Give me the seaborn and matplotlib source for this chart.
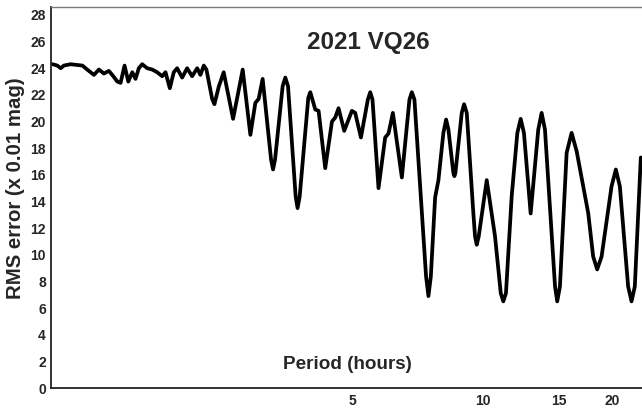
import matplotlib
matplotlib.use("Agg")
import matplotlib.pyplot as plt
import seaborn as sns
import pandas as pd
from matplotlib.ticker import FixedLocator, FixedFormatter, NullLocator

# Period (hours) and RMS error (x 0.01 mag)
period = [1.007, 1.032, 1.051, 1.069, 1.108, 1.180, 1.211, 1.255, 1.289, 1.324,
          1.359, 1.384, 1.422, 1.447, 1.478, 1.508, 1.540, 1.567, 1.595, 1.624,
          1.668, 1.713, 1.759, 1.807, 1.839, 1.882, 1.922, 1.957, 2.010, 2.064,
          2.120, 2.178, 2.216, 2.256, 2.288, 2.359, 2.388, 2.443, 2.509, 2.638,
          2.777, 2.893, 2.971, 3.024, 3.089,
          3.231, 3.265, 3.300, 3.437, 3.486, 3.537, 3.684, 3.722, 3.764, 3.941,
          3.984, 4.091, 4.164, 4.314, 4.472, 4.551, 4.632, 4.774, 4.974, 5.062,
          5.220, 5.416, 5.485, 5.552, 5.733, 5.941, 6.047, 6.190, 6.494, 6.763,
          6.850, 6.945, 7.390, 7.484, 7.580, 7.756, 7.894, 8.106, 8.225, 8.326,
          8.549, 8.597, 8.642, 8.941, 9.052, 9.183, 9.511, 9.598, 9.685, 9.788,
          10.216, 10.677, 11.010, 11.161, 11.320, 11.672, 12.030, 12.246, 12.460,
          12.915, 13.450, 13.695, 13.940, 14.710, 14.882, 15.100, 15.650, 16.071,
          16.510, 17.560, 18.030, 18.421, 18.860, 19.890, 20.351, 20.790, 21.730,
          22.129, 22.520, 23.253]
rms = [24.3, 24.2, 24.0, 24.2, 24.3, 24.2, 23.9, 23.5, 23.9, 23.6,
       23.8, 23.5, 23.0, 22.9, 24.2, 23.0, 23.7, 23.2, 24.0, 24.3,
       24.0, 23.9, 23.7, 23.4, 23.7, 22.5, 23.7, 24.0, 23.3, 24.0,
       23.4, 24.0, 23.5, 24.2, 23.9, 21.7, 21.3, 22.6, 23.7, 20.2,
       23.9, 19.0, 21.4, 21.7, 23.2,
       17.14, 16.4, 17.14, 22.65, 23.3, 22.65, 14.38, 13.5, 14.38, 21.78,
       22.2, 20.9, 20.8, 16.5, 20.0, 20.3, 21.0, 19.3, 20.8, 20.65,
       18.8, 21.65, 22.2, 21.65, 15.0, 18.8, 19.1, 20.65, 15.8, 21.65,
       22.2, 21.65, 8.37, 6.9, 8.37, 14.3, 15.6, 19.15, 20.15, 19.4,
       16.14, 15.9, 16.14, 20.65, 21.3, 20.65, 13.13, 11.38, 10.75, 11.38,
       15.6, 11.4, 7.12, 6.5, 7.12, 14.4, 19.15, 20.2, 19.15,
       13.1, 19.4, 20.65, 19.4, 7.62, 6.5, 7.62, 17.65, 19.15,
       17.77, 13.13, 9.87, 8.9, 9.87, 15.14, 16.4, 15.14, 7.62,
       6.5, 7.62, 17.3]

x_ticks = [5, 10, 15, 20]
x_tick_labels = ["5", "10", "15", "20"]
y_ticks = list(range(0, 29, 2))

df = pd.DataFrame({"period": period, "rms": rms})

sns.set_style("white")
plt.rcParams["font.family"] = ["Liberation Sans", "DejaVu Sans"]
plt.rcParams["font.weight"] = "bold"

fig = plt.figure(figsize=(6.42, 4.08), dpi=100)
ax = fig.add_axes([0.080, 0.049, 0.920, 0.934])

sns.lineplot(data=df, x="period", y="rms", ax=ax, color="black",
             linewidth=2.7, sort=False, estimator=None)
for line in ax.get_lines():
    line.set_solid_joinstyle("round")
    line.set_solid_capstyle("round")

ax.set_xscale("log")
ax.set_xlim(1.0, 23.4)
ax.set_ylim(0, 28.6)

ax.xaxis.set_major_locator(FixedLocator(x_ticks))
ax.xaxis.set_major_formatter(FixedFormatter(x_tick_labels))
ax.xaxis.set_minor_locator(NullLocator())
ax.set_yticks(y_ticks)
ax.set_yticklabels([str(v) for v in y_ticks])

ax.tick_params(axis="x", direction="inout", length=5, width=1, color="#555555",
               labelsize=10, pad=2)
ax.tick_params(axis="y", direction="out", length=2, width=0.8, color="#888888",
               labelsize=10, pad=2)
for lab in ax.get_xticklabels() + ax.get_yticklabels():
    lab.set_fontweight("bold")

ax.set_xlabel("")
ax.set_ylabel("")
fig.text(0.024, 0.539, "RMS error (x 0.01 mag)", rotation=90, ha="center",
         va="center", fontsize=14.7, fontweight="bold")

ax.spines["left"].set_color("#222222")
ax.spines["left"].set_linewidth(1.3)
ax.spines["bottom"].set_color("#222222")
ax.spines["bottom"].set_linewidth(1.3)
ax.spines["top"].set_color("#777777")
ax.spines["top"].set_linewidth(1.0)
ax.spines["right"].set_visible(False)

ax.text(0.536, 0.907, "2021 VQ26", transform=ax.transAxes, ha="center",
        va="center", fontsize=17.5, fontweight="bold")
ax.text(0.502, 0.063, "Period (hours)", transform=ax.transAxes, ha="center",
        va="center", fontsize=13.6, fontweight="bold")

fig.savefig("out.png", dpi=100, facecolor="white")
